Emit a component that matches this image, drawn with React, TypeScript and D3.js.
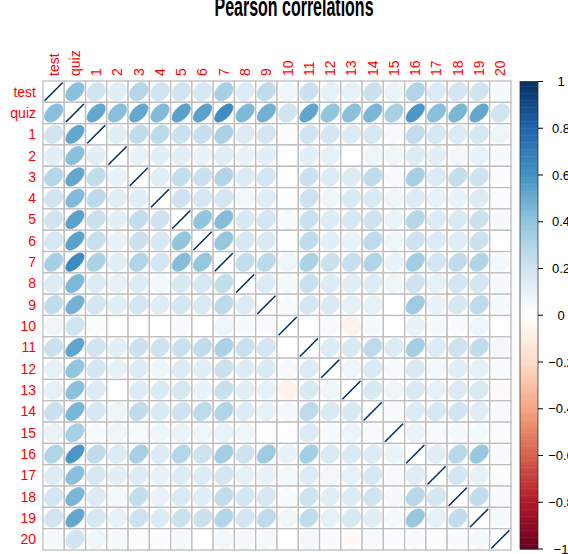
import React from "react";
import * as d3 from "d3";

const labels = ["test", "quiz", "1", "2", "3", "4", "5", "6", "7", "8", "9", "10", "11", "12", "13", "14", "15", "16", "17", "18", "19", "20"];

// Upper triangle: row i holds correlations with columns j > i
const upper: number[][] = [
  [0.42, 0.2, 0.13, 0.29, 0.2, 0.2, 0.18, 0.33, 0.15, 0.25, 0.07, 0.22, 0.11, 0.11, 0.22, 0.09, 0.3, 0.15, 0.19, 0.2, 0.05],
  [0.52, 0.42, 0.52, 0.44, 0.54, 0.54, 0.63, 0.45, 0.48, 0.2, 0.53, 0.4, 0.42, 0.46, 0.33, 0.58, 0.42, 0.46, 0.52, 0.2],
  [0.12, 0.25, 0.27, 0.22, 0.23, 0.32, 0.15, 0.19, 0.02, 0.2, 0.19, 0.15, 0.18, 0.04, 0.25, 0.18, 0.15, 0.18, 0.08],
  [0.1, 0.12, 0.12, 0.1, 0.13, 0.1, 0.12, 0.0, 0.12, 0.11, 0.0, 0.08, 0.07, 0.15, 0.12, 0.06, 0.1, 0.05],
  [0.13, 0.24, 0.22, 0.3, 0.15, 0.19, 0.01, 0.22, 0.15, 0.15, 0.25, 0.04, 0.33, 0.15, 0.24, 0.21, 0.02],
  [0.21, 0.18, 0.19, 0.06, 0.14, 0.0, 0.21, 0.07, 0.16, 0.16, 0.07, 0.15, 0.1, 0.1, 0.15, 0.02],
  [0.4, 0.43, 0.17, 0.19, 0.03, 0.22, 0.15, 0.18, 0.21, 0.09, 0.29, 0.15, 0.16, 0.22, 0.05],
  [0.39, 0.18, 0.16, 0.0, 0.25, 0.12, 0.1, 0.26, 0.08, 0.21, 0.15, 0.14, 0.22, 0.0],
  [0.24, 0.27, 0.08, 0.32, 0.22, 0.23, 0.3, 0.1, 0.35, 0.19, 0.25, 0.3, 0.06],
  [0.15, 0.05, 0.22, 0.15, 0.13, 0.15, 0.07, 0.21, 0.11, 0.19, 0.19, 0.05],
  [0.03, 0.19, 0.16, 0.11, 0.11, 0.0, 0.36, 0.1, 0.18, 0.26, 0.05],
  [0.0, 0.04, -0.07, 0.05, 0.0, 0.1, 0.05, 0.03, 0.07, 0.0],
  [0.15, 0.17, 0.26, 0.15, 0.34, 0.15, 0.21, 0.25, 0.06],
  [0.07, 0.16, 0.04, 0.16, 0.06, 0.13, 0.11, 0.03],
  [0.17, 0.08, 0.16, 0.11, 0.15, 0.17, -0.03],
  [0.03, 0.15, 0.18, 0.2, 0.13, 0.04],
  [0.09, 0.04, 0.05, 0.05, 0.02],
  [0.13, 0.28, 0.38, 0.04],
  [0.19, 0.11, 0.02],
  [0.25, 0.03],
  [0.05],
  [],
];

const legendTicks = [-1, -0.8, -0.6, -0.4, -0.2, 0, 0.2, 0.4, 0.6, 0.8, 1];
const rampColors = ["#67001F", "#B2182B", "#D6604D", "#F4A582", "#FDDBC7", "#FFFFFF", "#D1E5F0", "#92C5DE", "#4393C3", "#2166AC", "#053061"];
const title = "Pearson correlations";

const matrix: number[][] = labels.map((_, i) =>
  labels.map((__, j) => (i === j ? 1 : i < j ? upper[i][j - i - 1] : upper[j][i - j - 1]))
);

const font = "'Liberation Sans', Arial, Helvetica, sans-serif";

export default function App() {
  const gx0 = 43, gx1 = 511, gy0 = 81, gy1 = 550;
  const x = d3.scaleBand<string>().domain(labels).range([gx0, gx1]).padding(0);
  const y = d3.scaleBand<string>().domain(labels).range([gy0, gy1]).padding(0);
  const color = d3
    .scaleLinear<string>()
    .domain(d3.range(rampColors.length).map((k) => -1 + (2 * k) / (rampColors.length - 1)))
    .range(rampColors)
    .interpolate(d3.interpolateRgb)
    .clamp(true);

  const bw = x.bandwidth();
  const bh = y.bandwidth();

  const ellipsePath = (rho: number, cx: number, cy: number) => {
    const a = Math.acos(Math.max(-1, Math.min(1, rho)));
    const pts: [number, number][] = d3.range(99).map((i) => {
      const k = (2 * Math.PI * i) / 98;
      const ex = (0.85 * Math.cos(k + a / 2)) / 2;
      const ey = (0.85 * Math.cos(k - a / 2)) / 2;
      return [cx + ex * bw, cy - ey * bh];
    });
    return d3.line()(pts) + "Z";
  };

  const cbX0 = 520, cbX1 = 538;
  const cbY = d3.scaleLinear().domain([-1, 1]).range([gy1 - 1, gy0 + 0.5]);
  const nBins = 200;
  const bins = d3.range(nBins).map((i) => -1 + (2 * (i + 0.5)) / nBins);

  return (
    <svg width={568} height={554} style={{ position: "absolute", left: 0, top: 0, background: "#fff" }}>
      <text
        transform="translate(294,16) scale(1,1.7)"
        textAnchor="middle"
        fontFamily={font}
        fontWeight="bold"
        fontSize={16}
        fill="#000"
      >
        {title}
      </text>
      {/* cells */}
      {labels.map((rl) =>
        labels.map((cl) => (
          <rect key={`bg-${rl}-${cl}`} x={x(cl)} y={y(rl)} width={bw} height={bh} fill="#fff" stroke="#BEBEBE" strokeWidth={1.3} />
        ))
      )}
      {labels.map((rl, i) =>
        labels.map((cl, j) => {
          const v = matrix[i][j];
          const c = color(v);
          return (
            <path
              key={`e-${i}-${j}`}
              d={ellipsePath(v, (x(cl) as number) + bw / 2, (y(rl) as number) + bh / 2)}
              fill={c}
              stroke={c}
              strokeWidth={i === j ? 1.5 : 1}
            />
          );
        })
      )}
      {/* row labels */}
      {labels.map((l) => (
        <text key={`rl-${l}`} x={36} y={(y(l) as number) + bh / 2} dy="0.35em" textAnchor="end" fontFamily={font} fontSize={14} fill="#FF0000">
          {l}
        </text>
      ))}
      {/* column labels */}
      {labels.map((l) => {
        const cx = (x(l) as number) + bw / 2;
        return (
          <text
            key={`cl-${l}`}
            transform={`translate(${cx},76) rotate(-90)`}
            dy="0.35em"
            textAnchor="start"
            fontFamily={font}
            fontSize={14}
            fill="#FF0000"
          >
            {l}
          </text>
        );
      })}
      {/* color legend */}
      {bins.map((b, i) => (
        <rect
          key={`cb-${i}`}
          x={cbX0}
          y={cbY(b + 1 / nBins)}
          width={cbX1 - cbX0}
          height={Math.abs(cbY(b - 1 / nBins) - cbY(b + 1 / nBins)) + 0.5}
          fill={color(b)}
        />
      ))}
      <rect x={cbX0} y={cbY(1)} width={cbX1 - cbX0} height={cbY(-1) - cbY(1)} fill="none" stroke="#222" strokeWidth={0.7} />
      {legendTicks.map((t) => (
        <g key={`t-${t}`}>
          <line x1={cbX1} x2={cbX1 + 5} y1={cbY(t)} y2={cbY(t)} stroke="#000" strokeWidth={1} />
          <text x={561} y={cbY(t)} dy="0.35em" textAnchor="middle" fontFamily={font} fontSize={13} fill="#000">
            {t === 0 ? "0" : (t < 0 ? "\u2212" : "") + String(Math.abs(t))}
          </text>
        </g>
      ))}
    </svg>
  );
}
